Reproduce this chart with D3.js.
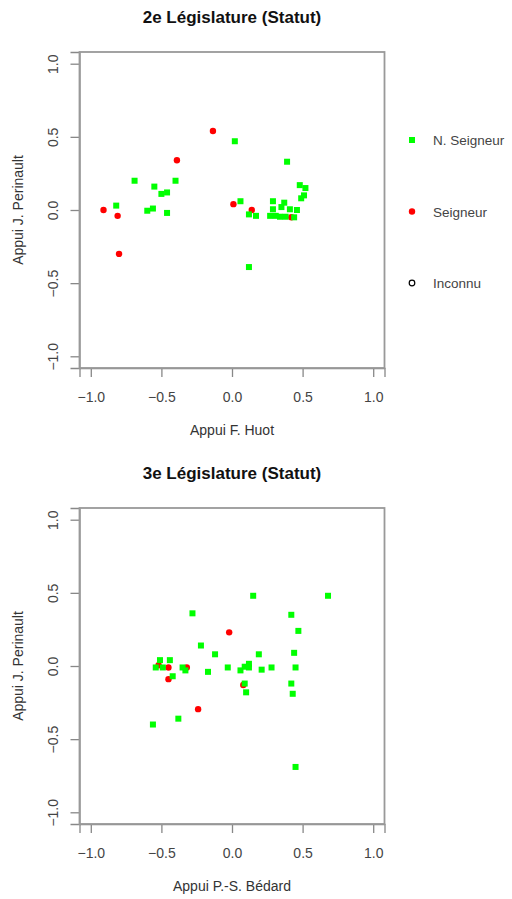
<!DOCTYPE html>
<html>
<head>
<meta charset="utf-8">
<script src="https://cdn.jsdelivr.net/npm/d3@7"></script>
<style>
  body { margin: 0; background: #fff; }
  svg text { font-family: "Liberation Sans", Arial, sans-serif; }
</style>
</head>
<body>
<script>
// 2e législature: appui F. Huot (x) / appui J. Perinault (y)
const leg2NSeigneur = [
  [-0.82, 0.03], [-0.69, 0.20], [-0.55, 0.16], [-0.60, -0.005], [-0.56, 0.01],
  [-0.50, 0.11], [-0.46, 0.12], [-0.46, -0.02], [-0.40, 0.20], [0.02, 0.47],
  [0.06, 0.06], [0.12, -0.03], [0.17, -0.04], [0.12, -0.39], [0.39, 0.33],
  [0.48, 0.17], [0.52, 0.15], [0.51, 0.10], [0.49, 0.08], [0.29, 0.06],
  [0.37, 0.05], [0.35, 0.02], [0.29, 0.005], [0.41, 0.005], [0.46, 0.0],
  [0.27, -0.04], [0.31, -0.04], [0.34, -0.046], [0.38, -0.046], [0.44, -0.05]
];
const leg2Seigneur = [
  [-0.91, 0.0], [-0.81, -0.04], [-0.80, -0.30], [-0.39, 0.34], [-0.135, 0.54],
  [0.01, 0.04], [0.14, 0.0], [0.42, -0.05]
];
const leg2Inconnu = [];

// 3e législature: appui P.-S. Bédard (x) / appui J. Perinault (y)
const leg3NSeigneur = [
  [-0.28, 0.36], [-0.22, 0.14], [-0.12, 0.08], [-0.51, 0.04], [-0.44, 0.04],
  [-0.54, -0.01], [-0.49, -0.01], [-0.35, -0.01], [-0.33, -0.03], [-0.42, -0.07],
  [-0.17, -0.04], [-0.03, -0.01], [0.06, -0.03], [0.09, -0.005], [0.12, 0.015],
  [0.12, -0.01], [0.09, -0.12], [0.10, -0.18], [-0.38, -0.36], [-0.56, -0.40],
  [0.15, 0.48], [0.68, 0.48], [0.42, 0.35], [0.47, 0.24], [0.19, 0.08],
  [0.44, 0.09], [0.21, -0.025], [0.28, -0.01], [0.45, -0.01], [0.42, -0.12],
  [0.43, -0.19], [0.45, -0.69]
];
const leg3Seigneur = [
  [-0.02, 0.23], [-0.52, 0.005], [-0.45, -0.01], [-0.32, -0.01], [-0.45, -0.09],
  [0.08, -0.13], [-0.24, -0.295]
];
const leg3Inconnu = [];

const tickValues = [-1.0, -0.5, 0.0, 0.5, 1.0];
const legendLabels = ["N. Seigneur", "Seigneur", "Inconnu"];

const width = 512, height = 899;
const svg = d3.select("body").append("svg")
  .attr("width", width).attr("height", height);

const green = "#00ff00", red = "#ff0000";

function panel(top, title, xlab, ylab, nsData, sData, iData) {
  const box = {left: 79.5, right: 384.5, top: top, bottom: top + 316};
  // R style: range extended 4% each side
  const x = d3.scaleLinear().domain([-1.08, 1.08]).range([box.left, box.right]);
  const y = d3.scaleLinear().domain([-1.08, 1.08]).range([box.bottom, box.top]);

  const g = svg.append("g");

  g.append("text")
    .attr("x", (box.left + box.right) / 2)
    .attr("y", top - 29)
    .attr("text-anchor", "middle")
    .attr("font-size", 17)
    .attr("font-weight", "bold")
    .attr("fill", "#111")
    .text(title);

  // x axis
  const xa = g.append("g")
    .attr("transform", "translate(0," + box.bottom + ")")
    .call(d3.axisBottom(x).tickValues(tickValues).tickSize(9).tickPadding(10)
      .tickFormat(d3.format(".1f")));
  // y axis
  const ya = g.append("g")
    .attr("transform", "translate(" + box.left + ",0)")
    .call(d3.axisLeft(y).tickValues(tickValues).tickSize(9).tickPadding(10)
      .tickFormat(d3.format(".1f")));
  [xa, ya].forEach(a => {
    a.select(".domain").attr("stroke", "#888").attr("stroke-width", 1.3);
    a.selectAll(".tick line").attr("stroke", "#888").attr("stroke-width", 1.3);
    a.selectAll(".tick text").attr("font-size", 14).attr("fill", "#444")
      .attr("font-family", "Liberation Sans, Arial, sans-serif");
  });
  // y tick labels parallel to axis
  ya.selectAll(".tick text")
    .attr("text-anchor", "middle")
    .attr("x", null).attr("dy", null)
    .attr("transform", "translate(-22,0) rotate(-90)");
  xa.selectAll(".tick text").attr("dy", null).attr("y", 34);

  g.append("rect")
    .attr("x", box.left).attr("y", box.top)
    .attr("width", box.right - box.left).attr("height", box.bottom - box.top)
    .attr("fill", "none").attr("stroke", "#999").attr("stroke-width", 1.8);

  g.append("text")
    .attr("x", (box.left + box.right) / 2)
    .attr("y", box.bottom + 67)
    .attr("text-anchor", "middle")
    .attr("font-size", 14).attr("fill", "#333")
    .text(xlab);
  g.append("text")
    .attr("transform", "translate(23," + (box.top + box.bottom) / 2 + ") rotate(-90)")
    .attr("text-anchor", "middle")
    .attr("font-size", 14).attr("fill", "#333")
    .text(ylab);

  // points: seigneurs first, non-seigneurs on top
  g.selectAll(".s").data(sData).enter().append("circle")
    .attr("cx", d => x(d[0])).attr("cy", d => y(d[1])).attr("r", 3.2)
    .attr("fill", red);
  g.selectAll(".i").data(iData).enter().append("circle")
    .attr("cx", d => x(d[0])).attr("cy", d => y(d[1])).attr("r", 3)
    .attr("fill", "none").attr("stroke", "#000");
  g.selectAll(".ns").data(nsData).enter().append("rect")
    .attr("x", d => x(d[0]) - 3).attr("y", d => y(d[1]) - 3)
    .attr("width", 6).attr("height", 6)
    .attr("fill", green);
}

panel(52, "2e Législature (Statut)", "Appui F. Huot", "Appui J. Perinault",
  leg2NSeigneur, leg2Seigneur, leg2Inconnu);
panel(508, "3e Législature (Statut)", "Appui P.-S. Bédard", "Appui J. Perinault",
  leg3NSeigneur, leg3Seigneur, leg3Inconnu);

// legend in right margin of first panel
const legY = d3.scalePoint().domain(legendLabels).range([140, 283]);
const leg = svg.append("g");
legendLabels.forEach((lab, i) => {
  const yy = legY(lab);
  if (i === 0) {
    leg.append("rect").attr("x", 409).attr("y", yy - 3).attr("width", 6).attr("height", 6).attr("fill", green);
  } else if (i === 1) {
    leg.append("circle").attr("cx", 412).attr("cy", yy).attr("r", 3.2).attr("fill", red);
  } else {
    leg.append("circle").attr("cx", 412).attr("cy", yy).attr("r", 2.8)
      .attr("fill", "none").attr("stroke", "#000").attr("stroke-width", 1.2);
  }
  leg.append("text").attr("x", 433).attr("y", yy + 5)
    .attr("font-size", 13.5).attr("fill", "#444").text(lab);
});
</script>
</body>
</html>
